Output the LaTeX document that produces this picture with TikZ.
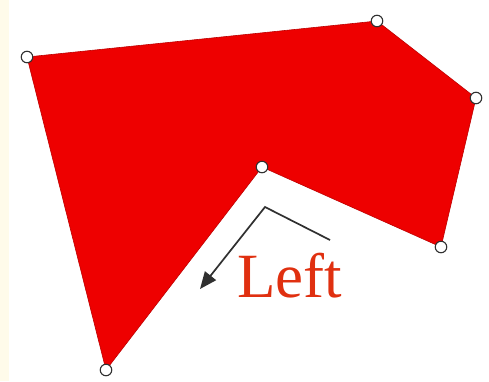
\documentclass[tikz,border=0pt]{standalone}
\usepackage{fontspec}
\setmainfont{Liberation Serif}
\usetikzlibrary{arrows.meta}
\definecolor{polyred}{HTML}{EE0000}
\definecolor{labelred}{HTML}{E03010}
\definecolor{cream}{HTML}{FFFBEA}
\definecolor{ptline}{HTML}{303030}
\tikzset{
  vertex/.style={circle,draw=ptline,fill=white,line width=1.1pt,minimum size=11.5pt,inner sep=0pt},
  pointer/.style={draw=ptline,line width=1.7pt,-{Triangle[length=17pt,width=14pt]}},
  lbl/.style={font=\fontsize{63}{63}\selectfont,text=labelred,inner sep=0pt,anchor=base west}
}
\begin{document}
\begin{tikzpicture}[x=1pt,y=-1pt]
\useasboundingbox (0,0) rectangle (489,381);
\fill[white] (0,0) rectangle (489,381);
\fill[cream] (0,0) rectangle (9,381);
\coordinate (p1) at (27,57);
\coordinate (p2) at (377,21);
\coordinate (p3) at (476,98);
\coordinate (p4) at (441,247);
\coordinate (p5) at (262,167);
\coordinate (p6) at (106,370);
\fill[polyred,draw=polyred!80!black,line width=0.6pt,line join=round] (p1) -- (p2) -- (p3) -- (p4) -- (p5) -- (p6) -- cycle;
\foreach \p in {p1,p2,p3,p4,p5,p6} \node[vertex] at (\p) {};
\coordinate (a0) at (330,240);
\coordinate (a1) at (265,207);
\coordinate (a2) at (200,289);
\draw[pointer] (a0) -- (a1) -- (a2);
\node[lbl] (left) at (237,297) {Left};
\end{tikzpicture}
\end{document}
